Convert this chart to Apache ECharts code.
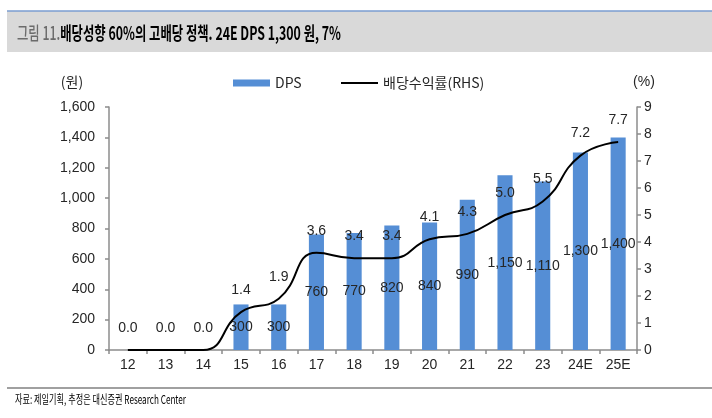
<!DOCTYPE html>
<html><head><meta charset="utf-8">
<script src="https://cdn.jsdelivr.net/npm/echarts@6/dist/echarts.min.js"></script>
<style>html,body{margin:0;padding:0;background:#fff}#c{width:712px;height:418px}</style>
</head><body><div id="c"></div>
<script>
const categories = ['12','13','14','15','16','17','18','19','20','21','22','23','24E','25E'];
const dps = [0,0,0,300,300,760,770,820,840,990,1150,1110,1300,1400];
const yieldPct = [0.0,0.0,0.0,1.4,1.9,3.6,3.4,3.4,4.1,4.3,5.0,5.5,7.2,7.7];
const leftAxis = {min:0, max:1600, interval:200};
const rightAxis = {min:0, max:9, interval:1};
const titleGray = '그림 11.';
const titleMain = '배당성향 60%의 고배당 정책. 24E DPS 1,300 원, 7%';
const footerText = '자료: 제일기획, 추정은 대신증권 Research Center';

const FONT = '"Liberation Sans", Arial, "Noto Sans CJK KR", sans-serif';
const KFONT = '"Noto Sans CJK KR", sans-serif';
const cv = document.createElement('canvas').getContext('2d');
function w(t, f){ cv.font = f; return cv.measureText(t).width; }
const titleW = w(titleGray, '500 18px ' + KFONT) + w(titleMain, 'bold 18px ' + KFONT);
const titleScale = 324 / titleW;
const footW = w(footerText, '12px ' + KFONT);
const footScale = 171 / footW;

const chart = echarts.init(document.getElementById('c'), null, {renderer:'canvas'});
const axisCol = '#8c8c8c';
const txt = '#262626';
const legendText = {fontFamily:KFONT, fontSize:14, color:txt};
chart.setOption({
  animation:false,
  grid:{left:109, right:75, top:107, bottom:68},
  legend:[{
    left:233, top:76, padding:0, itemWidth:37, itemHeight:7,
    textStyle:legendText, data:[{name:'DPS', icon:'rect'}]
  },{
    left:341, top:76, padding:0, itemWidth:37, itemHeight:2,
    textStyle:legendText, data:[{name:'배당수익률(RHS)', icon:'rect', itemStyle:{color:'#000'}}]
  }],
  xAxis:{
    type:'category', data:categories,
    axisLine:{lineStyle:{color:axisCol, width:1.5}},
    axisTick:{show:true, length:4, lineStyle:{color:axisCol, width:1.5}},
    axisLabel:{fontFamily:FONT, fontSize:14, color:txt, margin:8}
  },
  yAxis:[{
    type:'value', min:leftAxis.min, max:leftAxis.max, interval:leftAxis.interval,
    name:'(원)', nameLocation:'end', nameGap:18,
    nameTextStyle:{fontFamily:KFONT, fontSize:14, color:txt, align:'center', padding:[0,0,0,-74]},
    splitLine:{show:false},
    axisLine:{show:true, lineStyle:{color:axisCol, width:1.5}},
    axisTick:{show:true, length:4, lineStyle:{color:axisCol, width:1.5}},
    axisLabel:{fontFamily:FONT, fontSize:14, color:txt, margin:14,
      formatter:v=>v.toLocaleString('en-US')}
  },{
    type:'value', min:rightAxis.min, max:rightAxis.max, interval:rightAxis.interval,
    name:'(%)', nameLocation:'end', nameGap:18,
    nameTextStyle:{fontFamily:FONT, fontSize:14, color:txt, align:'center', padding:[0,0,0,14]},
    splitLine:{show:false},
    axisLine:{show:true, lineStyle:{color:axisCol, width:1.5}},
    axisTick:{show:true, length:4, lineStyle:{color:axisCol, width:1.5}},
    axisLabel:{fontFamily:FONT, fontSize:14, color:txt, margin:7}
  }],
  series:[{
    name:'DPS', type:'bar', data:dps, barWidth:'40%', yAxisIndex:0,
    itemStyle:{color:'#558ED5'},
    label:{show:true, position:'inside', fontFamily:FONT, fontSize:14, color:txt,
      formatter:p=>p.value ? p.value.toLocaleString('en-US') : ''}
  },{
    name:'배당수익률(RHS)', type:'line', data:yieldPct, yAxisIndex:1,
    smooth:0.5, symbol:'circle', symbolSize:0.01, showSymbol:true, z:5,
    lineStyle:{color:'#000', width:2}, itemStyle:{color:'#000'},
    label:{show:true, position:'top', distance:15, fontFamily:FONT, fontSize:14, color:txt,
      formatter:p=>p.value.toFixed(1)}
  }],
  graphic:[
    {type:'rect', shape:{x:7, y:11, width:705, height:41}, style:{fill:'#D9D9D9'}, silent:true},
    {type:'line', shape:{x1:7, y1:11, x2:712, y2:11}, style:{stroke:'#7A9CD0', lineWidth:1.5}},
    {type:'text', x:17, y:33, scaleX:titleScale,
      style:{text:'{a|'+titleGray+'}{b|'+titleMain+'}', verticalAlign:'middle',
        rich:{a:{fontFamily:KFONT, fontSize:18, fontWeight:500, fill:'#6b6b6b'},
              b:{fontFamily:KFONT, fontSize:18, fontWeight:'bold', fill:'#000'}}}},
    {type:'line', shape:{x1:7, y1:388, x2:712, y2:388}, style:{stroke:'#808080', lineWidth:1.5}},
    {type:'text', x:15, y:399, scaleX:footScale,
      style:{text:footerText, verticalAlign:'middle', fontFamily:KFONT, fontSize:12, fill:'#000'}}
  ]
});
</script></body></html>
